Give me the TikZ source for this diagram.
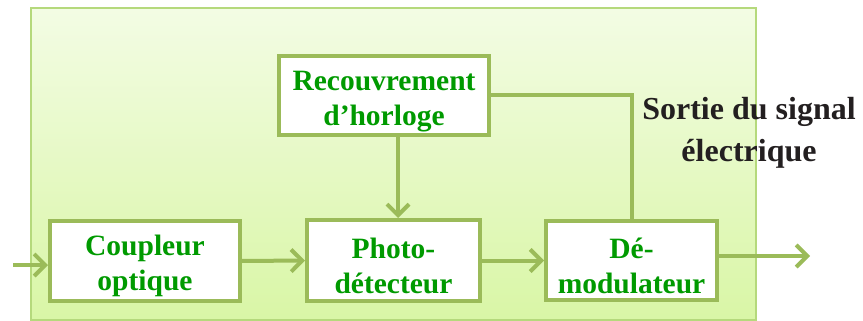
\documentclass[tikz,border=0pt]{standalone}
\usepackage{fontspec}
\setmainfont{Liberation Serif}
\usetikzlibrary{arrows.meta,calc}
\definecolor{olive}{HTML}{9BBB59}
\definecolor{boxtext}{HTML}{009A00}
\definecolor{bgtop}{HTML}{F3FCE4}
\definecolor{bgbot}{HTML}{D9F6A6}
\definecolor{bgline}{HTML}{B5D97C}
\definecolor{labeltext}{HTML}{231F20}
\newcommand\toppad{\rule{0pt}{31pt}}
\tikzset{
  blockbox/.style={draw=olive, line width=4pt, fill=white, align=center,
    text=boxtext, font=\fontsize{29.5}{35}\selectfont\bfseries, inner sep=0pt},
  link/.style={draw=olive, line width=4pt},
  arr/.style={link, -{Straight Barb[length=11pt,width=22pt,line width=4pt]}}
}
\begin{document}
\begin{tikzpicture}[x=1pt,y=-1pt]
\useasboundingbox (0,0) rectangle (863,321);
\shade[top color=bgtop, bottom color=bgbot] (31,8) rectangle (756,320);
\draw[bgline, line width=1.5pt] (31,8) rectangle (756,320);

\node[blockbox, minimum width=210pt, minimum height=79pt] (rec) at (384,95.5) {\toppad Recouvrement\\d’horloge};
\node[blockbox, minimum width=190pt, minimum height=80pt] (cp) at (145,261) {\toppad Coupleur\\optique};
\node[blockbox, minimum width=173pt, minimum height=81pt] (pd) at (393.5,260.5) {\toppad Photo-\\détecteur};
\node[blockbox, minimum width=171pt, minimum height=79pt] (dm) at (631.5,260.5) {\toppad Dé-\\modulateur};

\node[align=center, text=labeltext, font=\fontsize{32}{42}\selectfont\bfseries] (lbl) at (749,133) {Sortie du signal\\électrique};

\coordinate (in) at (13,265);
\coordinate (out) at (810,256);
\coordinate (drop) at (398,0);

\draw[arr] (in) -- (in -| cp.west);
\draw[arr] (cp.east) -- (pd.west);
\draw[arr] (pd.east) -- (dm.west);
\draw[arr] (dm.east |- out) -- (out);
\draw[arr] (drop |- rec.south) -- (drop |- pd.north);
\draw[link] (rec.east) -| (dm.north);
\end{tikzpicture}
\end{document}
